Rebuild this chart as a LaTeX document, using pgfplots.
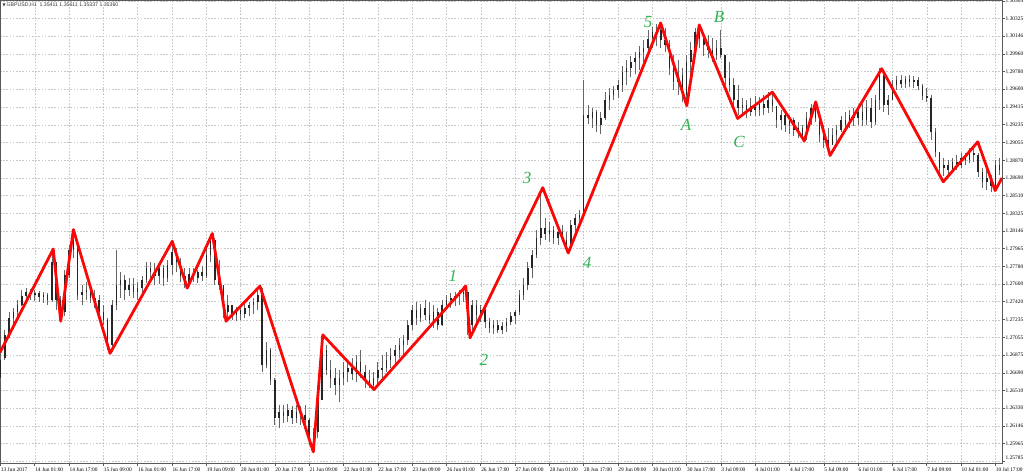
\documentclass[border=0pt]{standalone}
\usepackage{pgfplots}
\usepackage{pgfplotstable}
\pgfplotsset{compat=1.18}
\usepackage{fontspec}
\setmainfont{Liberation Serif}
\newfontfamily\sansf{Liberation Sans}
\newfontfamily\symf{DejaVu Sans}
\definecolor{wavegreen}{RGB}{52,178,84}
\definecolor{gridc}{RGB}{200,200,200}

\pgfplotstableread{
x o h l c
0 1.2664 1.2687 1.2660 1.2682
2 1.2684 1.2713 1.2682 1.2708
4 1.2708 1.2731 1.2705 1.2725
6 1.2725 1.2736 1.2715 1.2731
8 1.2731 1.2744 1.2723 1.2739
10 1.2739 1.2754 1.2738 1.2748
12 1.2748 1.2756 1.2742 1.2752
14 1.2752 1.2755 1.2744 1.2749
16 1.2749 1.2754 1.2743 1.2751
18 1.2751 1.2753 1.2742 1.2747
20 1.2747 1.2752 1.2741 1.2749
22 1.2749 1.2751 1.2739 1.2744
24 1.2744 1.2793 1.2742 1.2783
26 1.2783 1.2783 1.2734 1.2744
28 1.2744 1.2748 1.2725 1.2731
30 1.2731 1.2775 1.2727 1.2769
32 1.2769 1.2800 1.2766 1.2795
34 1.2795 1.2814 1.2787 1.2805
36 1.2805 1.2805 1.2744 1.2749
38 1.2749 1.2759 1.2739 1.2752
40 1.2752 1.2762 1.2744 1.2754
42 1.2754 1.2759 1.2741 1.2746
44 1.2746 1.2754 1.2736 1.2744
46 1.2744 1.2749 1.2725 1.2731
48 1.2731 1.2739 1.2718 1.2723
50 1.2723 1.2725 1.2692 1.2698
52 1.2698 1.2744 1.2690 1.2739
54 1.2739 1.2795 1.2734 1.2759
56 1.2759 1.2772 1.2746 1.2764
58 1.2764 1.2769 1.2744 1.2754
60 1.2754 1.2766 1.2748 1.2759
62 1.2759 1.2766 1.2746 1.2752
64 1.2752 1.2762 1.2744 1.2756
66 1.2756 1.2768 1.2747 1.2764
68 1.2764 1.2783 1.2761 1.2777
70 1.2777 1.2783 1.2762 1.2772
72 1.2772 1.2782 1.2759 1.2768
74 1.2768 1.2783 1.2760 1.2777
76 1.2777 1.2780 1.2758 1.2766
78 1.2766 1.2785 1.2762 1.2780
80 1.2780 1.2802 1.2769 1.2793
82 1.2793 1.2797 1.2772 1.2783
84 1.2783 1.2787 1.2762 1.2768
86 1.2768 1.2777 1.2756 1.2760
88 1.2760 1.2777 1.2758 1.2770
90 1.2770 1.2777 1.2762 1.2766
92 1.2766 1.2775 1.2761 1.2772
94 1.2772 1.2779 1.2763 1.2768
96 1.2768 1.2797 1.2766 1.2790
98 1.2790 1.2811 1.2783 1.2805
100 1.2805 1.2807 1.2759 1.2764
102 1.2764 1.2785 1.2754 1.2759
104 1.2759 1.2759 1.2725 1.2731
106 1.2731 1.2749 1.2723 1.2739
108 1.2739 1.2739 1.2723 1.2728
110 1.2728 1.2737 1.2722 1.2734
112 1.2734 1.2738 1.2723 1.2729
114 1.2729 1.2741 1.2725 1.2736
116 1.2736 1.2742 1.2727 1.2739
118 1.2739 1.2746 1.2729 1.2742
120 1.2742 1.2754 1.2734 1.2749
122 1.2749 1.2756 1.2670 1.2677
124 1.2677 1.2701 1.2674 1.2692
126 1.2692 1.2695 1.2657 1.2662
128 1.2662 1.2664 1.2616 1.2623
130 1.2623 1.2636 1.2612 1.2629
132 1.2629 1.2636 1.2618 1.2625
134 1.2625 1.2637 1.2619 1.2631
136 1.2631 1.2635 1.2617 1.2623
138 1.2623 1.2636 1.2618 1.2629
140 1.2629 1.2635 1.2616 1.2626
142 1.2626 1.2636 1.2612 1.2621
144 1.2621 1.2623 1.2595 1.2600
146 1.2600 1.2612 1.2588 1.2608
148 1.2608 1.2646 1.2602 1.2641
150 1.2641 1.2705 1.2641 1.2692
152 1.2692 1.2698 1.2667 1.2672
154 1.2672 1.2682 1.2654 1.2664
156 1.2664 1.2674 1.2646 1.2657
158 1.2657 1.2672 1.2639 1.2664
160 1.2664 1.2680 1.2657 1.2670
162 1.2670 1.2682 1.2660 1.2674
164 1.2674 1.2684 1.2662 1.2668
166 1.2668 1.2687 1.2660 1.2680
168 1.2680 1.2692 1.2664 1.2670
170 1.2670 1.2677 1.2654 1.2662
172 1.2662 1.2672 1.2654 1.2657
174 1.2657 1.2670 1.2651 1.2664
176 1.2664 1.2680 1.2657 1.2672
178 1.2672 1.2687 1.2664 1.2674
180 1.2674 1.2690 1.2670 1.2682
182 1.2682 1.2695 1.2674 1.2686
184 1.2686 1.2698 1.2677 1.2692
186 1.2692 1.2705 1.2684 1.2698
188 1.2698 1.2708 1.2687 1.2703
190 1.2703 1.2723 1.2698 1.2718
192 1.2718 1.2739 1.2713 1.2734
194 1.2734 1.2742 1.2718 1.2725
196 1.2725 1.2740 1.2721 1.2736
198 1.2736 1.2744 1.2723 1.2728
200 1.2728 1.2742 1.2719 1.2723
202 1.2723 1.2739 1.2715 1.2731
204 1.2731 1.2736 1.2713 1.2718
206 1.2718 1.2744 1.2717 1.2739
208 1.2739 1.2749 1.2734 1.2744
210 1.2744 1.2751 1.2736 1.2746
212 1.2746 1.2752 1.2738 1.2748
214 1.2748 1.2754 1.2739 1.2750
216 1.2750 1.2758 1.2742 1.2752
218 1.2752 1.2752 1.2708 1.2718
220 1.2718 1.2744 1.2713 1.2739
222 1.2739 1.2744 1.2721 1.2728
224 1.2728 1.2739 1.2721 1.2734
226 1.2734 1.2736 1.2715 1.2721
228 1.2721 1.2725 1.2710 1.2715
230 1.2715 1.2723 1.2709 1.2718
232 1.2718 1.2723 1.2710 1.2713
234 1.2713 1.2721 1.2709 1.2717
236 1.2717 1.2725 1.2711 1.2721
238 1.2721 1.2731 1.2718 1.2727
240 1.2727 1.2734 1.2719 1.2731
242 1.2731 1.2754 1.2728 1.2749
244 1.2749 1.2766 1.2744 1.2759
246 1.2759 1.2783 1.2754 1.2777
248 1.2777 1.2795 1.2766 1.2790
250 1.2790 1.2816 1.2787 1.2807
252 1.2807 1.2857 1.2800 1.2818
254 1.2818 1.2828 1.2805 1.2811
256 1.2811 1.2824 1.2803 1.2816
258 1.2816 1.2820 1.2801 1.2807
260 1.2807 1.2818 1.2800 1.2814
262 1.2814 1.2821 1.2803 1.2805
264 1.2805 1.2814 1.2793 1.2800
266 1.2800 1.2826 1.2797 1.2821
268 1.2821 1.2832 1.2814 1.2828
270 1.2828 1.2836 1.2818 1.2831
272 1.2831 1.2969 1.2828 1.2934
274 1.2934 1.2944 1.2924 1.2930
276 1.2930 1.2941 1.2920 1.2937
278 1.2937 1.2939 1.2916 1.2923
280 1.2923 1.2937 1.2914 1.2930
282 1.2930 1.2957 1.2928 1.2949
284 1.2949 1.2961 1.2939 1.2954
286 1.2954 1.2963 1.2949 1.2959
288 1.2959 1.2969 1.2951 1.2964
290 1.2964 1.2984 1.2957 1.2978
292 1.2978 1.2990 1.2964 1.2982
294 1.2982 1.2994 1.2972 1.2988
296 1.2988 1.2998 1.2976 1.2992
298 1.2992 1.3004 1.2980 1.2998
300 1.2998 1.3010 1.2988 1.3002
302 1.3002 1.3021 1.2998 1.3012
304 1.3013 1.3024 1.3002 1.3019
306 1.3019 1.3027 1.3004 1.3021
308 1.3021 1.3026 1.3002 1.3010
310 1.3010 1.3023 1.2998 1.3005
312 1.3005 1.3010 1.2975 1.2982
314 1.2982 1.2995 1.2959 1.2967
316 1.2967 1.2990 1.2954 1.2975
318 1.2975 1.2982 1.2947 1.2954
320 1.2954 1.2995 1.2945 1.2988
322 1.2988 1.3008 1.2969 1.3000
324 1.3000 1.3023 1.2995 1.3019
326 1.3019 1.3027 1.3002 1.3011
328 1.3011 1.3019 1.2994 1.3005
330 1.3005 1.3016 1.2992 1.3000
332 1.3000 1.3013 1.2988 1.2995
334 1.2995 1.3010 1.2990 1.3002
336 1.3002 1.3021 1.2992 1.2995
338 1.2995 1.2995 1.2964 1.2971
340 1.2972 1.2988 1.2957 1.2964
342 1.2964 1.2971 1.2941 1.2949
344 1.2949 1.2964 1.2934 1.2941
346 1.2941 1.2951 1.2932 1.2944
348 1.2944 1.2949 1.2930 1.2937
350 1.2937 1.2951 1.2933 1.2943
352 1.2943 1.2953 1.2932 1.2939
354 1.2939 1.2952 1.2933 1.2945
356 1.2945 1.2954 1.2934 1.2941
358 1.2941 1.2957 1.2936 1.2949
360 1.2949 1.2957 1.2937 1.2943
362 1.2943 1.2943 1.2920 1.2928
364 1.2928 1.2939 1.2918 1.2934
366 1.2934 1.2937 1.2916 1.2923
368 1.2923 1.2934 1.2914 1.2928
370 1.2928 1.2930 1.2912 1.2918
372 1.2918 1.2926 1.2910 1.2920
374 1.2920 1.2923 1.2908 1.2913
376 1.2913 1.2937 1.2908 1.2930
378 1.2930 1.2945 1.2923 1.2941
380 1.2941 1.2947 1.2926 1.2930
382 1.2930 1.2930 1.2906 1.2913
384 1.2913 1.2923 1.2900 1.2908
386 1.2908 1.2920 1.2896 1.2903
388 1.2903 1.2920 1.2903 1.2913
390 1.2913 1.2923 1.2906 1.2918
392 1.2918 1.2933 1.2916 1.2928
394 1.2928 1.2937 1.2918 1.2923
396 1.2923 1.2939 1.2920 1.2934
398 1.2934 1.2941 1.2922 1.2930
400 1.2930 1.2943 1.2923 1.2937
402 1.2937 1.2945 1.2922 1.2928
404 1.2928 1.2949 1.2923 1.2941
406 1.2941 1.2951 1.2920 1.2926
408 1.2926 1.2954 1.2923 1.2949
410 1.2949 1.2982 1.2939 1.2975
412 1.2975 1.2975 1.2937 1.2944
414 1.2944 1.2954 1.2934 1.2949
416 1.2949 1.2969 1.2949 1.2964
418 1.2964 1.2974 1.2959 1.2969
420 1.2969 1.2975 1.2961 1.2965
422 1.2965 1.2974 1.2961 1.2970
424 1.2970 1.2975 1.2962 1.2967
426 1.2967 1.2974 1.2961 1.2969
428 1.2969 1.2973 1.2959 1.2963
430 1.2963 1.2965 1.2949 1.2953
432 1.2953 1.2961 1.2947 1.2951
434 1.2951 1.2954 1.2908 1.2916
436 1.2916 1.2920 1.2890 1.2896
438 1.2896 1.2896 1.2872 1.2879
440 1.2879 1.2889 1.2871 1.2882
442 1.2882 1.2887 1.2873 1.2877
444 1.2877 1.2889 1.2875 1.2885
446 1.2885 1.2893 1.2877 1.2882
448 1.2882 1.2895 1.2879 1.2889
450 1.2889 1.2895 1.2882 1.2887
452 1.2887 1.2900 1.2884 1.2895
454 1.2895 1.2903 1.2885 1.2892
456 1.2892 1.2895 1.2870 1.2875
458 1.2875 1.2879 1.2859 1.2865
460 1.2865 1.2877 1.2857 1.2869
462 1.2869 1.2872 1.2855 1.2861
464 1.2861 1.2887 1.2859 1.2882
466 1.2882 1.2889 1.2872 1.2877
}\bars

\begin{document}
\begin{tikzpicture}
\begin{axis}[
  scale only axis,
  width=1002pt, height=463pt,
  xmin=-0.23, xmax=467.1,
  ymin=1.25766, ymax=1.30515,
  axis line style={draw=black!65, line width=0.8pt},
  xtick={0,16,...,464},
  xticklabels={13 Jun 2017,14 Jun 01:00,14 Jun 17:00,15 Jun 09:00,16 Jun 01:00,16 Jun 17:00,19 Jun 09:00,20 Jun 01:00,20 Jun 17:00,21 Jun 09:00,22 Jun 01:00,22 Jun 17:00,23 Jun 09:00,26 Jun 01:00,26 Jun 17:00,27 Jun 09:00,28 Jun 01:00,28 Jun 17:00,29 Jun 09:00,30 Jun 01:00,30 Jun 17:00,3 Jul 09:00,4 Jul 01:00,4 Jul 17:00,5 Jul 09:00,6 Jul 01:00,6 Jul 17:00,7 Jul 09:00,10 Jul 01:00,10 Jul 17:00},
  ytick={1.30505,1.30325,1.30146,1.29960,1.29780,1.29600,1.29415,1.29235,1.29055,1.28870,1.28690,1.28510,1.28325,1.28146,1.27965,1.27780,1.27600,1.27420,1.27235,1.27055,1.26875,1.26690,1.26510,1.26330,1.26146,1.25965,1.25785},
  yticklabels={1.30505,1.30325,1.30146,1.29960,1.29780,1.29600,1.29415,1.29235,1.29055,1.28870,1.28690,1.28510,1.28325,1.28146,1.27965,1.27780,1.27600,1.27420,1.27235,1.27055,1.26875,1.26690,1.26510,1.26330,1.26146,1.25965,\raisebox{7pt}{1.25785}},
  xtick pos=bottom, ytick pos=right,
  yticklabel pos=right,
  tick align=outside,
  major tick length=3pt,
  tick style={draw=black!65, line width=0.6pt},
  xticklabel style={anchor=north west, inner sep=0pt, yshift=-1.8pt, xshift=0.3pt, font=\fontsize{5.4}{6}\selectfont},
  yticklabel style={anchor=west, inner sep=0pt, xshift=0.5pt, font=\fontsize{5.4}{6}\selectfont},
  xmajorgrids, ymajorgrids,
  major grid style={draw=gridc, line width=0.5pt, dash pattern=on 1.6pt off 1.6pt},
  clip=true,
]
\coordinate (SW) at (rel axis cs:0,0);
\coordinate (NE) at (rel axis cs:1,1);
% high-low wicks
\addplot[draw=none, no markers, forget plot,
  error bars/.cd, y dir=plus, y explicit, error mark=none,
  error bar style={draw=black!60, line width=0.9pt, solid}]
  table[x=x, y=l, y error expr=\thisrow{h}-\thisrow{l}] {\bars};
% bodies
\addplot[draw=none, no markers, forget plot,
  error bars/.cd, y dir=plus, y explicit, error mark=none,
  error bar style={draw=black!85, line width=1.5pt, solid}]
  table[x=x, y expr={min(\thisrow{o},\thisrow{c})}, y error expr={abs(\thisrow{c}-\thisrow{o})}] {\bars};
% zigzag wave count
\addplot[draw={rgb,255:red,250;green,8;blue,8}, line width=2.8pt, line join=round, mark=none] coordinates {
(-0.23,1.2690) (24.6,1.2796) (28.1,1.2722) (34.0,1.2816) (51.1,1.2689)
(80.1,1.2804) (87.1,1.2756) (98.8,1.2812) (105.2,1.2722) (121.0,1.2758)
(145.9,1.2588) (150.3,1.2708) (174.2,1.2652) (217.0,1.2758) (219.0,1.2705)
(252.9,1.2859) (264.8,1.2792) (307.9,1.3028) (320.1,1.2943) (325.9,1.3026)
(343.8,1.2930) (360.0,1.2957) (374.9,1.2907) (380.2,1.2947) (386.9,1.2892)
(411.0,1.2981) (439.7,1.2865) (455.8,1.2906) (463.9,1.2856) (467.1,1.2869)
};
\begin{scope}[every node/.style={text=wavegreen, font=\fontsize{17}{17}\selectfont\itshape, inner sep=0pt}]
\node at (axis cs:211.0,1.2769) {1};
\node at (axis cs:225.5,1.2682) {2};
\node at (axis cs:245.6,1.2869) {3};
\node at (axis cs:273.6,1.2782) {4};
\node at (axis cs:302.0,1.3029) {5};
\node at (axis cs:319.7,1.2923) {A};
\node at (axis cs:335.1,1.3034) {B};
\node at (axis cs:344.5,1.2906) {C};
\end{scope}
\node[anchor=north west, inner sep=0pt, font=\sansf\fontsize{5.2}{6}\selectfont, text=black!80] at ([xshift=2.5pt,yshift=-2.5pt]rel axis cs:0,1) {{\symf\fontsize{4}{5}\selectfont ▼}\,GBPUSD,H1\ \ 1.35411 1.35611 1.35337 1.35360};
\end{axis}
\pgfresetboundingbox
\path[use as bounding box] ([yshift=-11pt]SW) rectangle ([xshift=22pt]NE);
\end{tikzpicture}
\end{document}
